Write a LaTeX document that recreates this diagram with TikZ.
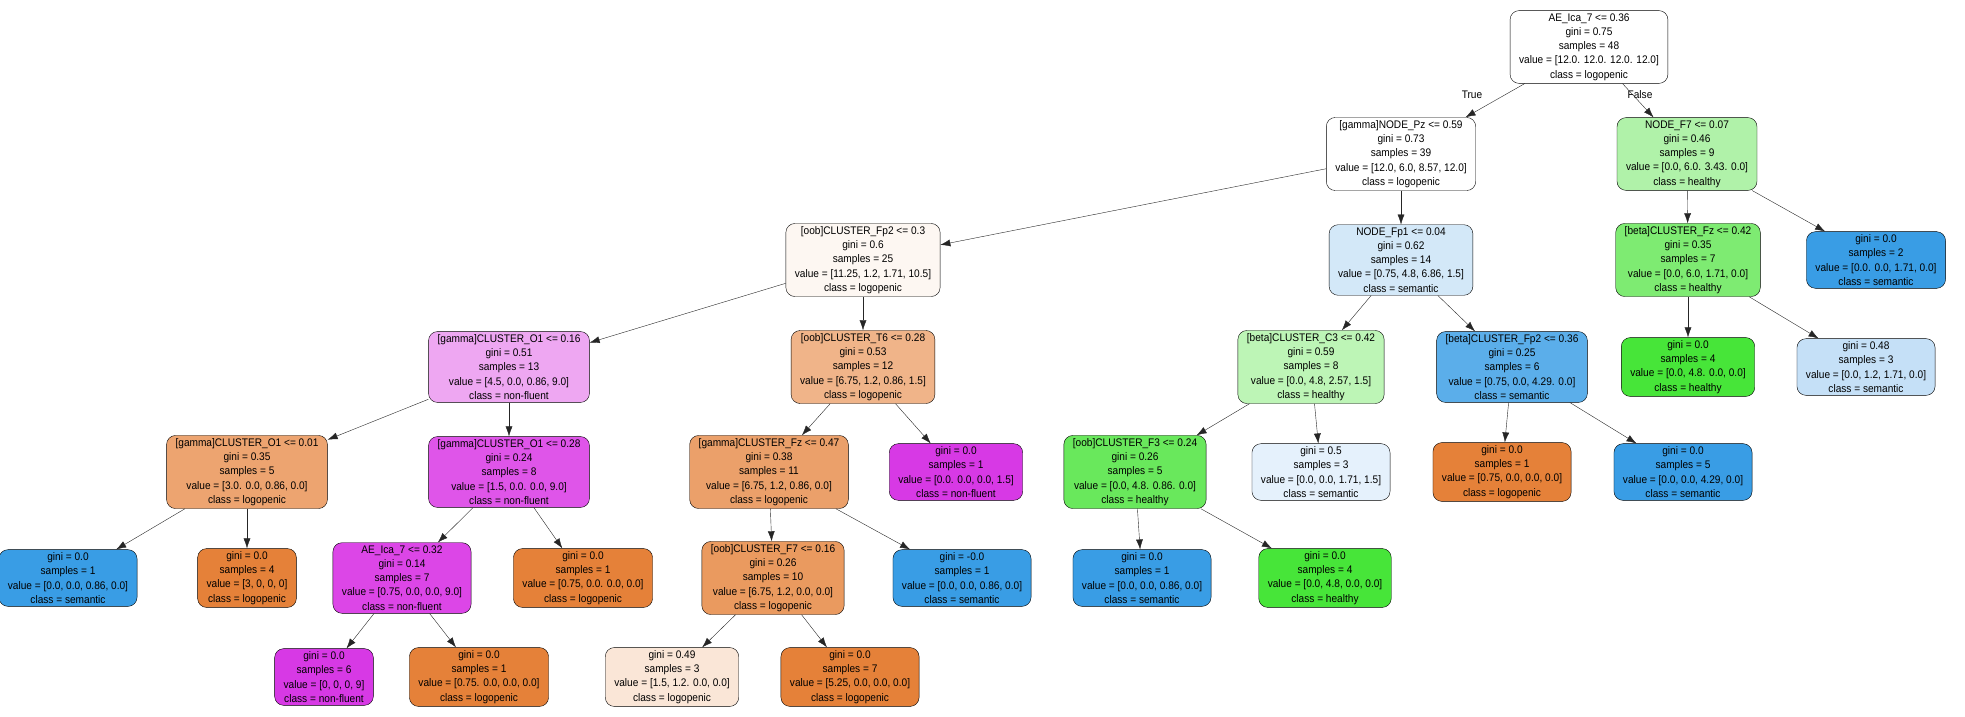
\documentclass[tikz,border=0pt]{standalone}
\usepackage{fontspec}
\setmainfont{Liberation Sans}[FakeStretch=0.92]
\usepackage{tikz}
\usetikzlibrary{arrows.meta}
\definecolor{cRoot}{HTML}{FFFFFF}
\definecolor{cHealthyA}{HTML}{B0F2A9}
\definecolor{cLogoA}{HTML}{FDF7F2}
\definecolor{cSemA}{HTML}{D3E8F8}
\definecolor{cHealthyB}{HTML}{7EEB72}
\definecolor{cSem}{HTML}{399DE5}
\definecolor{cNonA}{HTML}{EEA7F2}
\definecolor{cLogoB}{HTML}{F0B489}
\definecolor{cHealthyC}{HTML}{BDF5B6}
\definecolor{cSemB}{HTML}{5BAEEA}
\definecolor{cHealthy}{HTML}{47E539}
\definecolor{cSemC}{HTML}{C5E0F7}
\definecolor{cLogoC}{HTML}{EDA470}
\definecolor{cNonB}{HTML}{DF55E9}
\definecolor{cLogoD}{HTML}{EBA06A}
\definecolor{cNon}{HTML}{D739E5}
\definecolor{cHealthyD}{HTML}{69E85C}
\definecolor{cSemD}{HTML}{E5F1FC}
\definecolor{cLogo}{HTML}{E58139}
\definecolor{cNonC}{HTML}{DC46E7}
\definecolor{cLogoE}{HTML}{FAE6D7}
\definecolor{cLogoF}{HTML}{EA9A5F}
\tikzstyle{split}=[draw=black, rounded corners=9pt, align=center, inner xsep=9pt, inner ysep=3pt, font=\fontsize{11}{14.2}\selectfont]
\tikzstyle{edge}=[draw=black!85, -{Latex[length=10pt,width=7pt]}]

\begin{document}
\begin{tikzpicture}[x=1pt,y=1pt]
			\useasboundingbox (0,0) rectangle (1965,-717);
			% depth 0 and 1
			\node[split, fill=cRoot] (root) at (1589,-47) {AE\_Ica\_7 <= 0.36\\gini = 0.75\\samples = 48\\value = [12.0. 12.0. 12.0. 12.0]\\class = logopenic};
			\node[split, fill=cRoot] (gPz) at (1401,-154) {[gamma]NODE\_Pz <= 0.59\\gini = 0.73\\samples = 39\\value = [12.0, 6.0, 8.57, 12.0]\\class = logopenic};
			\node[split, fill=cHealthyA] (nF7) at (1687,-154) {NODE\_F7 <= 0.07\\gini = 0.46\\samples = 9\\value = [0.0, 6.0. 3.43. 0.0]\\class = healthy};
			% depth 2
			\node[split, fill=cLogoA] (oFp2) at (863,-260) {[oob]CLUSTER\_Fp2 <= 0.3\\gini = 0.6\\samples = 25\\value = [11.25, 1.2, 1.71, 10.5]\\class = logopenic};
			\node[split, fill=cSemA] (nFp1) at (1401,-260) {NODE\_Fp1 <= 0.04\\gini = 0.62\\samples = 14\\value = [0.75, 4.8, 6.86, 1.5]\\class = semantic};
			\node[split, fill=cHealthyB] (bFz) at (1688,-260) {[beta]CLUSTER\_Fz <= 0.42\\gini = 0.35\\samples = 7\\value = [0.0, 6.0, 1.71, 0.0]\\class = healthy};
			\node[split, fill=cSem] (lfA) at (1876,-260) {gini = 0.0\\samples = 2\\value = [0.0. 0.0, 1.71, 0.0]\\class = semantic};
			% depth 3
			\node[split, fill=cNonA] (gO1a) at (509,-367) {[gamma]CLUSTER\_O1 <= 0.16\\gini = 0.51\\samples = 13\\value = [4.5, 0.0, 0.86, 9.0]\\class = non-fluent};
			\node[split, fill=cLogoB] (oT6) at (863,-367) {[oob]CLUSTER\_T6 <= 0.28\\gini = 0.53\\samples = 12\\value = [6.75, 1.2, 0.86, 1.5]\\class = logopenic};
			\node[split, fill=cHealthyC] (bC3) at (1311,-367) {[beta]CLUSTER\_C3 <= 0.42\\gini = 0.59\\samples = 8\\value = [0.0, 4.8, 2.57, 1.5]\\class = healthy};
			\node[split, fill=cSemB] (bFp2) at (1512,-367) {[beta]CLUSTER\_Fp2 <= 0.36\\gini = 0.25\\samples = 6\\value = [0.75, 0.0, 4.29. 0.0]\\class = semantic};
			\node[split, fill=cHealthy] (lfB) at (1688,-367) {gini = 0.0\\samples = 4\\value = [0.0, 4.8. 0.0, 0.0]\\class = healthy};
			\node[split, fill=cSemC] (lfC) at (1866,-367) {gini = 0.48\\samples = 3\\value = [0.0, 1.2, 1.71, 0.0]\\class = semantic};
			% depth 4
			\node[split, fill=cLogoC] (gO1b) at (247,-472) {[gamma]CLUSTER\_O1 <= 0.01\\gini = 0.35\\samples = 5\\value = [3.0. 0.0, 0.86, 0.0]\\class = logopenic};
			\node[split, fill=cNonB] (gO1c) at (509,-472) {[gamma]CLUSTER\_O1 <= 0.28\\gini = 0.24\\samples = 8\\value = [1.5, 0.0. 0.0, 9.0]\\class = non-fluent};
			\node[split, fill=cLogoD] (gFz) at (769,-472) {[gamma]CLUSTER\_Fz <= 0.47\\gini = 0.38\\samples = 11\\value = [6.75, 1.2, 0.86, 0.0]\\class = logopenic};
			\node[split, fill=cNon] (lfD) at (956,-472) {gini = 0.0\\samples = 1\\value = [0.0. 0.0, 0.0, 1.5]\\class = non-fluent};
			\node[split, fill=cHealthyD] (oF3) at (1135,-472) {[oob]CLUSTER\_F3 <= 0.24\\gini = 0.26\\samples = 5\\value = [0.0, 4.8. 0.86. 0.0]\\class = healthy};
			\node[split, fill=cSemD] (lfE) at (1321,-472) {gini = 0.5\\samples = 3\\value = [0.0, 0.0, 1.71, 1.5]\\class = semantic};
			\node[split, fill=cLogo] (lfF) at (1502,-472) {gini = 0.0\\samples = 1\\value = [0.75, 0.0, 0.0, 0.0]\\class = logopenic};
			\node[split, fill=cSem] (lfG) at (1683,-472) {gini = 0.0\\samples = 5\\value = [0.0, 0.0, 4.29, 0.0]\\class = semantic};
			% depth 5
			\node[split, fill=cSem] (lfH) at (68,-578) {gini = 0.0\\samples = 1\\value = [0.0, 0.0, 0.86, 0.0]\\class = semantic};
			\node[split, fill=cLogo] (lfI) at (247,-578) {gini = 0.0\\samples = 4\\value = [3, 0, 0, 0]\\class = logopenic};
			\node[split, fill=cNonC] (aeIca) at (402,-578) {AE\_Ica\_7 <= 0.32\\gini = 0.14\\samples = 7\\value = [0.75, 0.0, 0.0, 9.0]\\class = non-fluent};
			\node[split, fill=cLogo] (lfJ) at (583,-578) {gini = 0.0\\samples = 1\\value = [0.75, 0.0. 0.0, 0.0]\\class = logopenic};
			\node[split, fill=cLogoF] (oF7) at (773,-578) {[oob]CLUSTER\_F7 <= 0.16\\gini = 0.26\\samples = 10\\value = [6.75, 1.2, 0.0, 0.0]\\class = logopenic};
			\node[split, fill=cSem] (lfK) at (962,-578) {gini = -0.0\\samples = 1\\value = [0.0, 0.0, 0.86, 0.0]\\class = semantic};
			\node[split, fill=cSem] (lfL) at (1142,-578) {gini = 0.0\\samples = 1\\value = [0.0, 0.0, 0.86, 0.0]\\class = semantic};
			\node[split, fill=cHealthy] (lfM) at (1325,-578) {gini = 0.0\\samples = 4\\value = [0.0, 4.8, 0.0, 0.0]\\class = healthy};
			% depth 6
			\node[split, fill=cNon] (lfN) at (324,-677) {gini = 0.0\\samples = 6\\value = [0, 0, 0, 9]\\class = non-fluent};
			\node[split, fill=cLogo] (lfO) at (479,-677) {gini = 0.0\\samples = 1\\value = [0.75. 0.0, 0.0, 0.0]\\class = logopenic};
			\node[split, fill=cLogoE] (lfP) at (672,-677) {gini = 0.49\\samples = 3\\value = [1.5, 1.2. 0.0, 0.0]\\class = logopenic};
			\node[split, fill=cLogo] (lfQ) at (850,-677) {gini = 0.0\\samples = 7\\value = [5.25, 0.0, 0.0, 0.0]\\class = logopenic};
			\node[font=\fontsize{11}{13}\selectfont] (lblT) at (1472,-95) {True};
			\node[font=\fontsize{11}{13}\selectfont] (lblF) at (1640,-95) {False};
			\foreach \a/\b in {root/gPz, root/nF7, gPz/oFp2, gPz/nFp1, nF7/bFz, nF7/lfA,
				oFp2/gO1a, oFp2/oT6, nFp1/bC3, nFp1/bFp2, bFz/lfB, bFz/lfC,
				gO1a/gO1b, gO1a/gO1c, oT6/gFz, oT6/lfD, bC3/oF3, bC3/lfE, bFp2/lfF, bFp2/lfG,
				gO1b/lfH, gO1b/lfI, gO1c/aeIca, gO1c/lfJ, gFz/oF7, gFz/lfK, oF3/lfL, oF3/lfM,
				aeIca/lfN, aeIca/lfO, oF7/lfP, oF7/lfQ}
				\draw[edge] (\a) -- (\b);
		\end{tikzpicture}
\end{document}
